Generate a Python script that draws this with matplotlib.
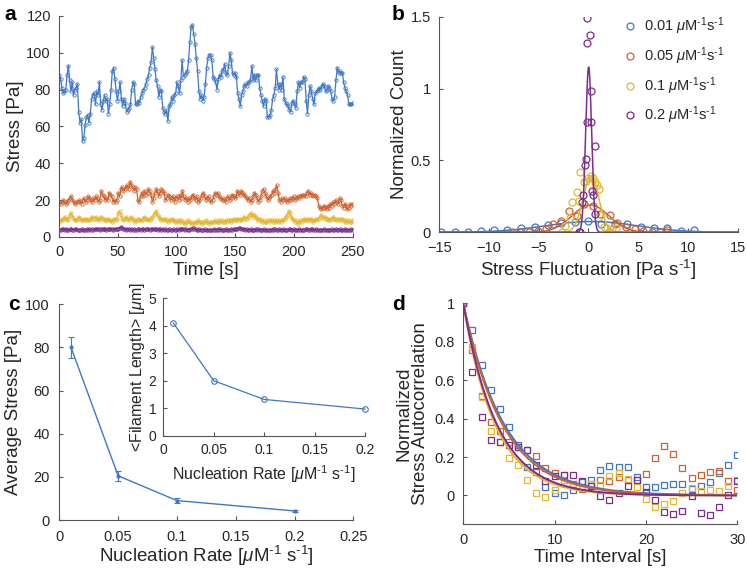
import numpy as np
import matplotlib
matplotlib.use("Agg")
import matplotlib.pyplot as plt

plt.rcParams['font.family'] = ['Liberation Sans', 'DejaVu Sans']
plt.rcParams['mathtext.fontset'] = 'custom'
plt.rcParams['mathtext.rm'] = 'Liberation Sans'
plt.rcParams['mathtext.it'] = 'Liberation Sans:italic'

# ---------------- colours ----------------
C_BLUE = '#3f77c6'
C_ORANGE = '#d0602c'
C_YELLOW = '#e6b52e'
C_PURPLE = '#7a2d8c'

# ---------------- panel a data ----------------
stress_blue = [
    88, 86, 81, 78, 79, 80, 88, 93, 85, 79,
    84, 77, 80, 81, 83, 68, 62, 64, 52, 54,
    61, 65, 66, 62, 67, 75, 77, 78, 72, 79,
    77, 84, 72, 69, 74, 77, 74, 75, 67, 72,
    80, 90, 92, 86, 79, 74, 79, 84, 75, 71,
    75, 73, 68, 69, 70, 72, 80, 84, 83, 72,
    72, 74, 73, 76, 78, 80, 81, 83, 86, 88,
    92, 95, 103, 97, 91, 85, 82, 76, 80, 79,
    70, 68, 67, 69, 63, 71, 72, 76, 74, 77,
    78, 84, 82, 78, 85, 96, 87, 88, 89, 90,
    96, 106, 114, 115, 110, 105, 97, 90, 79, 75,
    77, 74,
    76, 83, 92, 97, 99, 99, 96, 87, 86, 84,
    80, 86, 88, 87, 90, 91, 94, 89, 88, 93,
    100, 96, 89, 88, 89, 87, 78, 75, 71, 77,
    79, 82, 83, 82, 84, 84, 86, 93, 85, 88,
    85, 88, 88, 81, 77, 74, 71, 75, 74, 65,
    65, 66, 69, 75, 77, 81, 91, 83, 80, 83,
    80, 87, 75, 73, 72, 71, 69, 68, 73, 74,
    72, 70, 79, 84, 81, 84, 84, 87, 86, 74,
    67, 77, 82, 79, 75, 72, 78, 79, 80, 81,
    80, 82, 83, 82, 79, 80, 82, 81, 79, 75,
    74, 76, 85, 92, 89, 90, 89, 89, 84, 81,
    79, 77, 72, 72, 72, 73,
]
stress_orange = [
    19, 18, 19, 20, 19, 18, 19, 20, 21,
    22, 20, 19, 18, 19, 19, 20, 19, 18,
    20, 21, 19, 20, 22, 21, 20, 19, 21,
    20, 22, 21, 19, 20, 25, 23, 22, 20,
    21, 20, 24, 23, 22, 19, 20, 19, 20,
    24, 22, 26, 27, 25, 26, 27, 28, 26,
    30, 28, 27, 25, 27, 26, 20, 19, 22,
    24, 22, 25, 23, 24, 26, 25, 23, 19,
    21, 24, 26, 25, 22, 24, 26, 25, 24,
    20, 21, 23, 22, 20, 21, 22, 19, 21,
    22, 20, 23, 21, 25, 22, 20, 21, 19,
    21, 20, 22, 23, 21, 20, 22, 19, 20,
    21, 23, 24, 22, 20, 21, 22, 20, 19,
    20, 22, 24, 23, 24, 22, 21, 20, 21,
    20, 19, 21, 22, 20, 21, 23, 22, 21,
    22, 25, 24, 23, 25, 24, 23, 22, 21,
    20, 21, 19, 20, 22, 24, 23, 21, 19,
    20, 22, 25, 26, 24, 22, 20, 21, 22,
    23, 25, 24, 26, 28, 24, 20, 19, 21,
    20, 21, 20, 19, 20, 21, 20, 21, 22,
    20, 21, 22, 21, 22, 23, 22, 23, 22,
    24, 25, 23, 24, 23, 22, 23, 22, 21,
    17, 16, 15, 16, 17, 16, 15, 17, 16,
    18, 17, 19, 18, 20, 19, 18, 21, 20,
    17, 16, 18, 17, 15, 16, 18, 17, 18,
]
stress_yellow = [
    8, 9, 9, 10, 11, 10, 9, 10, 12,
    13, 11, 10, 9, 9, 10, 11, 10, 9,
    9, 10, 9, 10, 9, 9, 10, 11, 10,
    10, 11, 10, 9, 10, 11, 10, 10, 9,
    9, 10, 9, 9, 8, 9, 10, 9, 10,
    13, 14, 12, 10, 9, 10, 11, 10, 9,
    10, 11, 10, 9, 8, 9, 10, 9, 9,
    9, 10, 11, 10, 9, 10, 9, 10, 11,
    12, 13, 14, 12, 11, 10, 9, 10, 9,
    10, 9, 8, 9, 9, 10, 9, 8, 9,
    8, 9, 8, 9, 8, 8, 7, 8, 9,
    8, 8, 7, 8, 7, 8, 8, 9, 8,
    8, 7, 8, 8, 9, 8, 7, 8, 8,
    8, 8, 9, 8, 8, 9, 8, 9, 8,
    8, 9, 8, 9, 9, 8, 9, 10, 9,
    9, 10, 9, 10, 9, 10, 11, 10, 10,
    11, 12, 13, 12, 11, 12, 11, 10, 9,
    10, 9, 8, 9, 8, 8, 9, 8, 9,
    9, 8, 9, 8, 9, 8, 9, 8, 9,
    9, 10, 11, 12, 14, 13, 11, 10, 9,
    8, 9, 7, 8, 9, 8, 9, 10, 9,
    9, 10, 9, 10, 9, 8, 9, 10, 9,
    10, 11, 12, 11, 10, 11, 10, 9, 10,
    9, 10, 11, 10, 9, 10, 9, 10, 9,
    10, 9, 8, 9, 8, 9, 8, 8, 9,
]
stress_purple = [
    3.8, 4.0, 4.2, 4.1, 3.9, 4.3, 4.0, 3.8, 4.1,
    4.2, 4.0, 3.9, 4.1, 4.3, 4.0, 3.8, 4.0, 4.2,
    4.0, 3.7, 3.9, 4.1, 4.0, 4.2, 3.9, 4.1, 4.0,
    4.3, 4.1, 4.4, 4.2, 4.0, 4.3, 4.5, 4.2, 4.1,
    4.0, 4.2, 4.4, 4.1, 4.3, 4.0, 4.2, 4.5, 4.3,
    4.6, 5.0, 5.3, 4.8, 4.4, 4.2, 4.0, 4.3, 4.1,
    4.0, 4.2, 3.9, 4.1, 3.8, 4.0, 4.2, 4.1, 3.9,
    4.1, 4.3, 4.0, 4.2, 4.4, 4.1, 4.0, 4.3, 4.2,
    4.1, 4.4, 4.2, 4.0, 4.3, 4.1, 3.9, 4.2, 4.0,
    4.1, 3.9, 4.0, 4.2, 3.8, 4.0, 4.1, 3.9, 4.0,
    4.2, 4.0, 4.3, 4.1, 4.4, 4.2, 4.0, 4.1, 3.9,
    4.0, 4.3, 4.6, 4.8, 4.4, 4.2, 4.0, 3.9, 4.1,
    3.9, 4.0, 3.8, 4.1, 3.9, 3.7, 4.0, 3.9, 3.8,
    4.0, 4.1, 3.9, 4.0, 4.2, 3.9, 4.1, 4.0, 3.8,
    3.9, 4.1, 4.0, 3.8, 4.0, 4.2, 4.0, 4.1, 4.2,
    4.3, 4.6, 5.0, 4.8, 4.5, 4.3, 4.1, 4.0, 4.2,
    4.0, 3.9, 4.1, 4.0, 3.8, 4.0, 4.2, 3.9, 4.1,
    4.0, 3.8, 3.9, 4.1, 3.9, 3.7, 3.9, 4.0, 3.8,
    3.9, 4.1, 4.0, 4.2, 3.9, 4.0, 4.1, 3.8, 4.0,
    4.1, 3.9, 4.0, 3.8, 4.1, 4.2, 4.0, 3.9, 4.1,
    4.0, 3.8, 3.9, 4.1, 4.0, 3.8, 4.0, 3.9, 4.1,
    4.2, 4.0, 3.9, 4.1, 4.3, 4.0, 3.9, 4.1, 4.0,
    3.9, 4.0, 3.8, 4.0, 4.1, 3.9, 4.0, 3.8, 3.9,
    4.0, 4.1, 3.9, 4.0, 4.2, 4.0, 3.9, 4.1, 4.0,
    3.9, 4.0, 4.1, 3.9, 4.0, 3.8, 4.0, 4.1, 3.9,
]

# ---------------- panel b data ----------------
fluct_blue_x = [-14.8, -13.4, -12.1, -10.8, -9.5, -8.2, -6.8, -5.4, -4.1, -2.8,
                -1.4, 0.0, 1.3, 2.7, 3.9, 5.3, 6.6, 7.9, 9.3, 10.6]
fluct_blue_y = [0.0, 0.0, 0.005, 0.01, 0.014, 0.018, 0.03, 0.035, 0.048, 0.068,
                0.07, 0.078, 0.06, 0.055, 0.055, 0.04, 0.027, 0.03, 0.01, 0.015]
fluct_orange_x = [-7.7, -6.9, -6.0, -5.1, -4.3, -3.6, -2.8, -2.0, -1.2, -0.45,
                  0.5, 1.2, 2.2, 2.9, 3.8, 4.7, 5.5, 6.4, 7.2, 7.9]
fluct_orange_y = [0.0, 0.0, 0.0, 0.01, 0.025, 0.06, 0.08, 0.145, 0.11, 0.195,
                  0.185, 0.13, 0.12, 0.065, 0.04, 0.02, 0.01, 0.005, 0.005, 0.015]
fluct_yellow_x = [-2.7, -2.4, -1.9, -1.7, -1.2, -0.95, -0.8, -0.45, -0.28, 0.0,
                  0.25, 0.5, 0.65, 0.82, 1.06, 1.3, 1.56, 1.83, 2.16, 2.4, 2.73]
fluct_yellow_y = [0.0, 0.045, 0.1, 0.21, 0.28, 0.22, 0.42, 0.35, 0.36, 0.38,
                  0.39, 0.38, 0.35, 0.33, 0.30, 0.12, 0.04, 0.03, 0.0, 0.02, 0.03]
fluct_purple_x = [-0.92, -0.8, -0.62, -0.58, -0.35, -0.28, -0.18, -0.12, -0.12,
                  0.15, 0.25, 0.3, 0.37, 0.49, 0.65, 0.65]
fluct_purple_y = [0.0, 0.0, 0.21, 0.26, 0.47, 0.51, 1.49, 1.32, 0.77,
                  1.37, 0.98, 0.77, 0.29, 0.26, 0.6, 0.13]
# Gaussian fit parameters: amplitude, centre, width
fit_amp = [0.075, 0.19, 0.39, 1.15]
fit_mu = [0.3, 0.2, 0.25, 0.02]
fit_sigma = [4.6, 1.85, 0.8, 0.3]
INV = r'$^{\text{-1}}$'
legend_labels = [r'0.01 $\mu$M' + INV + 's' + INV,
                 r'0.05 $\mu$M' + INV + 's' + INV,
                 r'0.1 $\mu$M' + INV + 's' + INV,
                 r'0.2 $\mu$M' + INV + 's' + INV]

# ---------------- panel c data ----------------
nucleation_rate = [0.01, 0.05, 0.1, 0.2]
avg_stress = [80, 20.5, 9, 4.2]
avg_stress_err = [5, 2.2, 1.0, 0.5]
filament_length = [4.1, 2.0, 1.32, 0.97]

# ---------------- panel d data ----------------
lag_time = list(range(31))
acorr_blue = [1.0, 0.86, 0.68, 0.55, 0.45, 0.355, 0.26, 0.147, 0.12, 0.043,
              0.012, 0.0, 0.026, 0.07, 0.081, 0.133, 0.154, 0.15, 0.146, 0.094,
              0.043, 0.043, 0.055, 0.06, 0.059, 0.033, 0.05, 0.068, 0.116, 0.16, 0.208]
acorr_orange = [1.0, 0.757, 0.52, 0.38, 0.338, 0.277, 0.25, 0.237, 0.203, 0.142,
                0.116, 0.107, 0.06, 0.033, 0.06, 0.081, 0.076, 0.094, 0.081, 0.081,
                0.113, 0.194, 0.255, 0.217, 0.142, 0.09, 0.104, 0.12, 0.125, 0.073, 0.03]
acorr_yellow = [1.0, 0.775, 0.51, 0.338, 0.276, 0.194, 0.16, 0.081, 0.012, -0.009,
                0.026, 0.08, 0.047, 0.04, 0.06, 0.052, 0.099, 0.116, 0.085, 0.043,
                -0.017, -0.062, -0.045, -0.028, 0.012, 0.038, 0.024, 0.026, 0.024, 0.047, 0.081]
acorr_purple = [1.0, 0.64, 0.41, 0.286, 0.28, 0.26, 0.25, 0.237, 0.16, 0.076,
                0.102, 0.104, 0.104, 0.076, 0.047, -0.005, -0.023, 0.012, 0.05, 0.081,
                0.019, -0.023, -0.087, -0.095, -0.08, -0.005, -0.092, -0.102, -0.062, 0.003, 0.073]
decay_tau = [4.5, 4.3, 3.5, 3.7]

# ---------------- figure ----------------
fig = plt.figure(figsize=(7.47, 5.72), dpi=100)
SPINE = '#555555'
TXT = '#262626'
TICK_FS = 10.5
LAB_FS = 13.5
NUC_LABEL = r'Nucleation Rate [$\mu$M' + INV + ' s' + INV + ']'


def style(ax, pad=6):
    for s in ['top', 'right']:
        ax.spines[s].set_visible(False)
    for s in ['left', 'bottom']:
        ax.spines[s].set_color(SPINE)
        ax.spines[s].set_linewidth(0.8)
    ax.tick_params(direction='in', length=3, width=0.8, colors=SPINE,
                   labelcolor=TXT, labelsize=TICK_FS, pad=pad)


colors = [C_BLUE, C_ORANGE, C_YELLOW, C_PURPLE]

# panel a
axa = fig.add_axes([0.0794, 0.5857, 0.3928, 0.3864])
for vals, c in zip([stress_blue, stress_orange, stress_yellow, stress_purple], colors):
    t = np.linspace(0, 250, len(vals))
    axa.plot(t, vals, '-', color=c, lw=0.9, marker='o', ms=2.4, mfc='none', mew=0.6)
axa.set_xlim(0, 250)
axa.set_ylim(0, 120)
axa.set_xticks(range(0, 251, 50))
axa.set_yticks(range(0, 121, 20))
axa.set_xlabel('Time [s]', fontsize=LAB_FS, color=TXT, labelpad=2)
axa.set_ylabel('Stress [Pa]', fontsize=LAB_FS, color=TXT, labelpad=2)
style(axa)

# panel b
axb = fig.add_axes([0.588, 0.5939, 0.3995, 0.3769])
xs = [fluct_blue_x, fluct_orange_x, fluct_yellow_x, fluct_purple_x]
ys = [fluct_blue_y, fluct_orange_y, fluct_yellow_y, fluct_purple_y]
xx = np.linspace(-15, 15, 3001)
handles = []
for i in range(4):
    h, = axb.plot(xs[i], ys[i], 'o', ms=5, mfc='none', mec=colors[i], mew=0.9,
                  label=legend_labels[i])
    handles.append(h)
    axb.plot(xx, fit_amp[i] * np.exp(-(xx - fit_mu[i]) ** 2 / (2 * fit_sigma[i] ** 2)),
             '-', color=colors[i], lw=1.1)
axb.set_xlim(-15, 15)
axb.set_ylim(0, 1.5)
axb.set_xticks(range(-15, 16, 5))
axb.set_yticks([0, 0.5, 1, 1.5])
axb.set_yticklabels(['0', '0.5', '1', '1.5'])
axb.set_xlabel('Stress Fluctuation [Pa s' + INV + ']', fontsize=LAB_FS, color=TXT, labelpad=2)
axb.set_ylabel('Normalized Count', fontsize=LAB_FS, color=TXT, labelpad=2)
style(axb)
leg = axb.legend(handles=handles, loc='upper left', bbox_to_anchor=(0.57, 1.065),
                 frameon=False, fontsize=TICK_FS, handlelength=1.0, handletextpad=0.5,
                 labelspacing=0.55)
for t in leg.get_texts():
    t.set_color(TXT)

# panel c
axc = fig.add_axes([0.0794, 0.0909, 0.3936, 0.3771])
axc.errorbar(nucleation_rate, avg_stress, yerr=avg_stress_err, color=C_BLUE, lw=1.0,
             marker='.', ms=4, capsize=2.5, elinewidth=0.8, capthick=0.8)
axc.set_xlim(0, 0.25)
axc.set_ylim(0, 100)
axc.set_xticks([0, 0.05, 0.1, 0.15, 0.2, 0.25])
axc.set_xticklabels(['0', '0.05', '0.1', '0.15', '0.2', '0.25'])
axc.set_yticks(range(0, 101, 20))
axc.set_xlabel(NUC_LABEL, fontsize=LAB_FS, color=TXT, labelpad=0)
axc.set_ylabel('Average Stress [Pa]', fontsize=LAB_FS, color=TXT, labelpad=2)
style(axc, pad=7)

axi = fig.add_axes([0.2186, 0.2383, 0.27, 0.2402])
axi.plot(nucleation_rate, filament_length, '-o', color=C_BLUE, lw=0.9, ms=4,
         mfc='none', mew=0.8, clip_on=False)
axi.set_xlim(0, 0.2)
axi.set_ylim(0, 5)
axi.set_xticks([0, 0.05, 0.1, 0.15, 0.2])
axi.set_xticklabels(['0', '0.05', '0.1', '0.15', '0.2'])
axi.set_yticks(range(0, 6))
axi.set_xlabel(NUC_LABEL, fontsize=11.5, color=TXT, labelpad=5)
axi.set_ylabel(r'<Filament Length> [$\mu$m]', fontsize=11.5, color=TXT, labelpad=1)
style(axi, pad=5)
axi.tick_params(labelsize=10)
axi.patch.set_alpha(0)

# panel d
axd = fig.add_axes([0.6202, 0.0834, 0.3668, 0.3864])
acs = [acorr_blue, acorr_orange, acorr_yellow, acorr_purple]
tt = np.linspace(0, 30, 301)
for i in range(4):
    axd.plot(lag_time, acs[i], 's', ms=4.8, mfc='none', mec=colors[i], mew=0.9)
for i in range(4):
    axd.plot(tt, np.exp(-tt / decay_tau[i]), '-', color=colors[i], lw=1.4)
axd.set_xlim(0, 30)
axd.set_ylim(-0.15, 1.0)
axd.set_xticks([0, 10, 20, 30])
axd.set_yticks([0, 0.2, 0.4, 0.6, 0.8, 1.0])
axd.set_yticklabels(['0', '0.2', '0.4', '0.6', '0.8', '1'])
axd.set_xlabel('Time Interval [s]', fontsize=LAB_FS, color=TXT, labelpad=2)
axd.set_ylabel('Normalized\nStress Autocorrelation', fontsize=LAB_FS, color=TXT,
               labelpad=4, linespacing=1.0)
style(axd)

# panel letters
for lab, (x, y) in zip('abcd', [(0.013, 0.975), (0.533, 0.975), (0.018, 0.467), (0.533, 0.467)]):
    fig.text(x, y, lab, fontsize=15, fontweight='bold', ha='center', va='center', color='black')

fig.savefig('out.png', dpi=100, facecolor='white')
